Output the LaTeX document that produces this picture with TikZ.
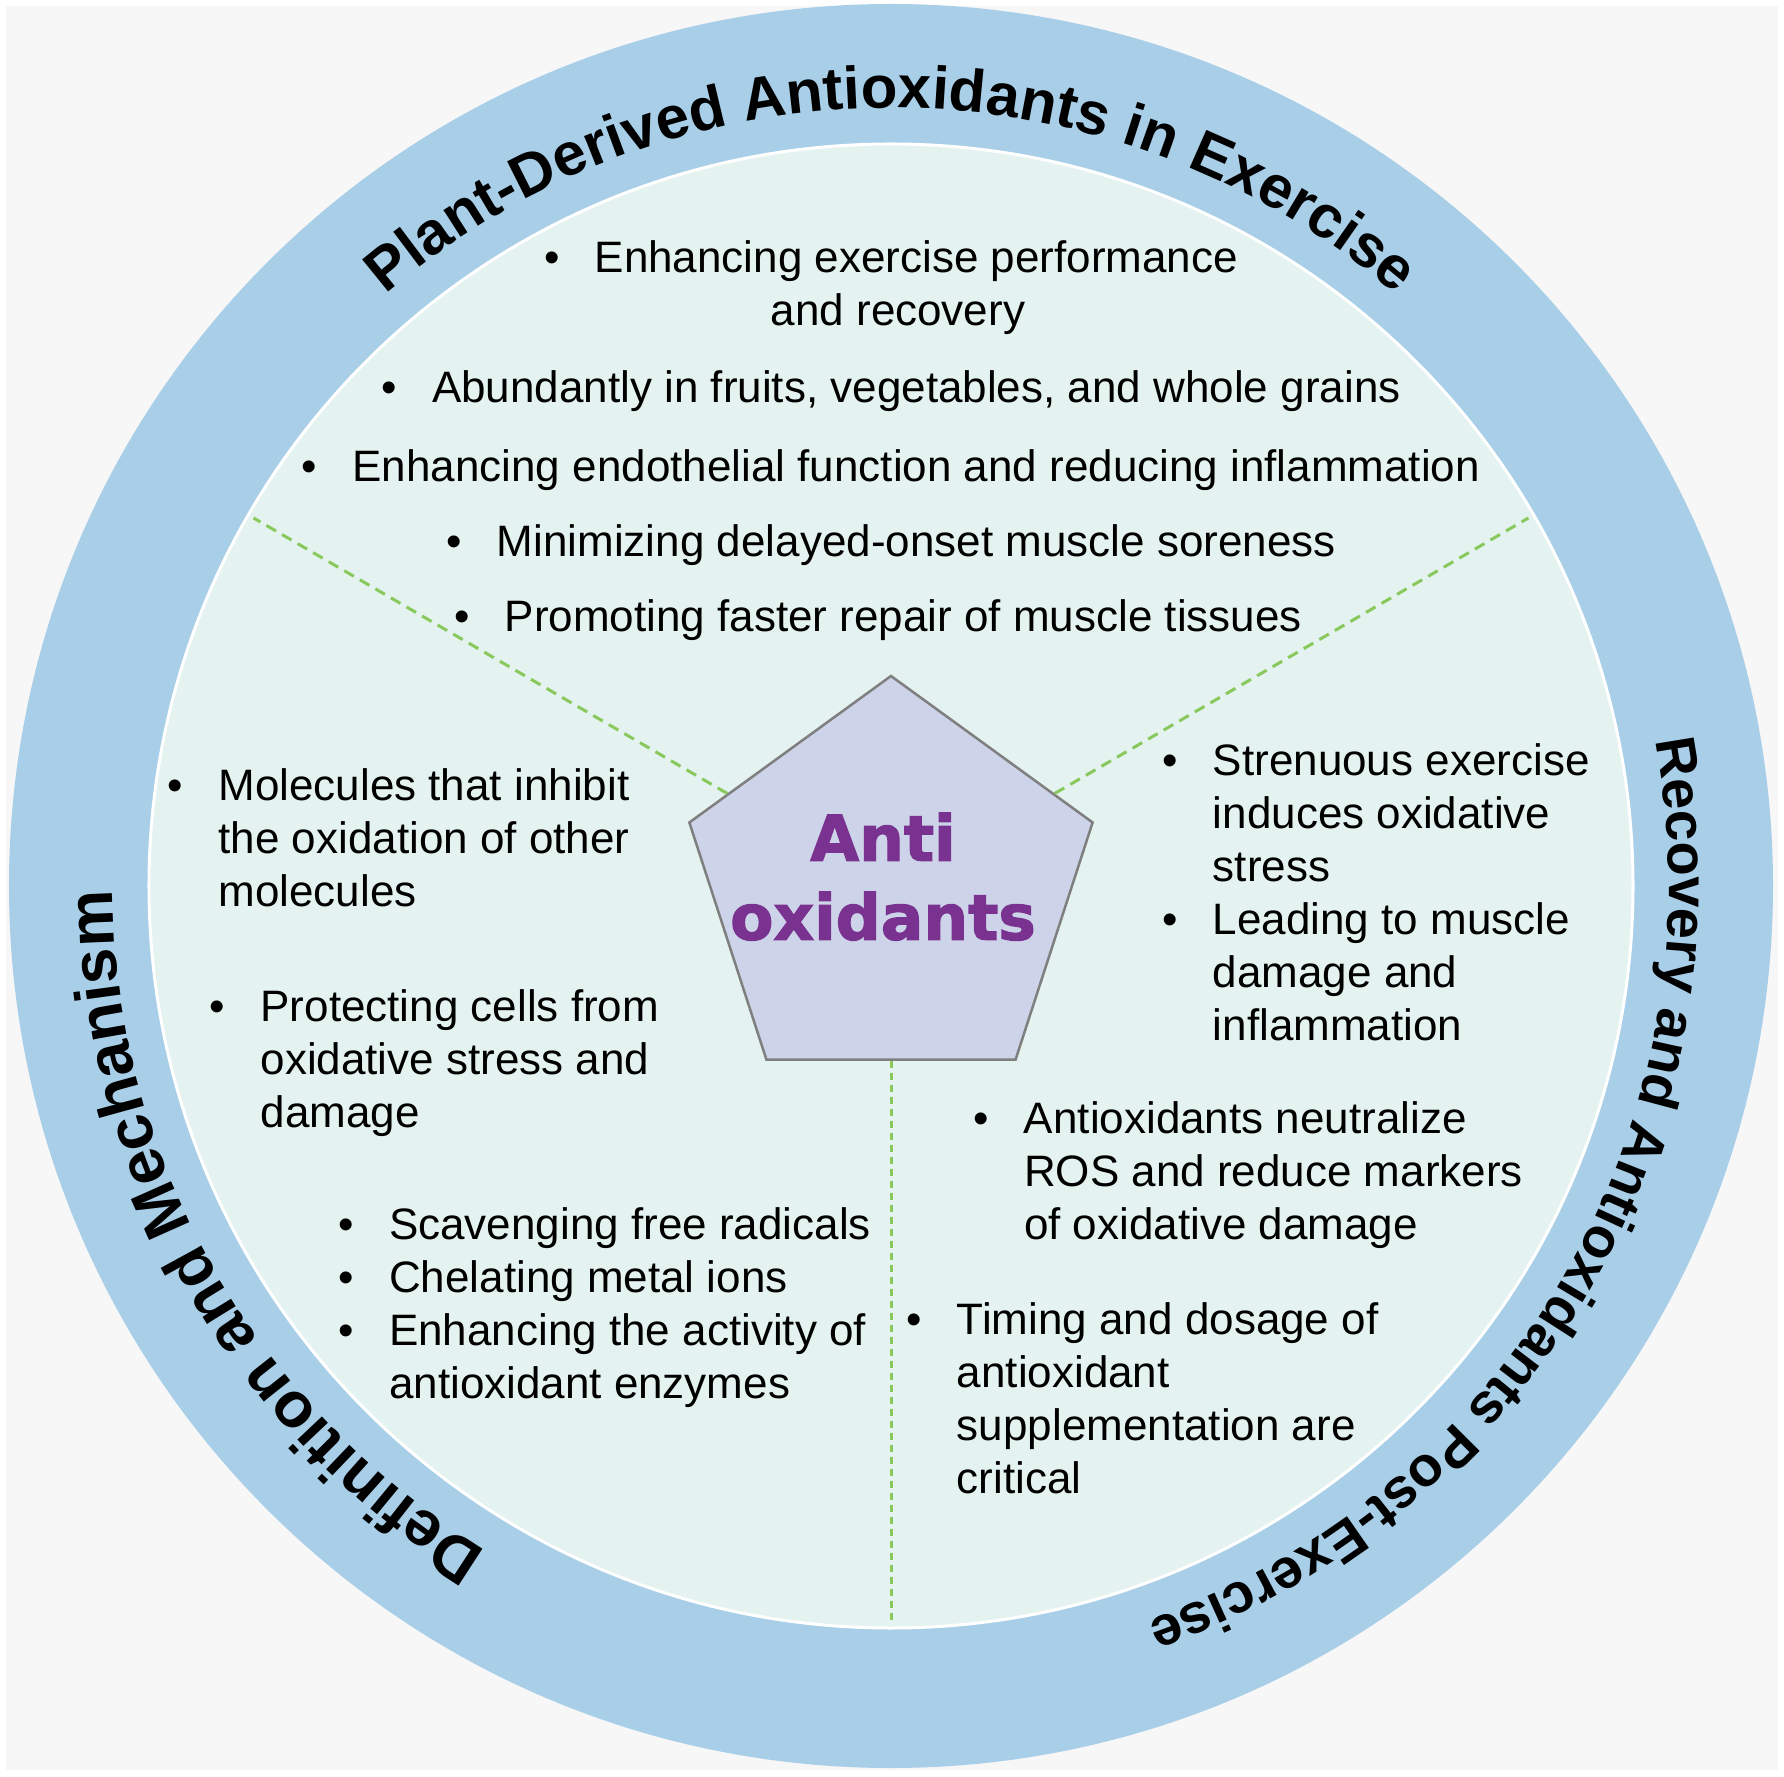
\documentclass[tikz,border=0pt]{standalone}
\usepackage{fontspec}
\setmainfont{Liberation Sans}
\newfontfamily\heavyfont{DejaVu Sans}[BoldFeatures={FakeBold=2}]
\usetikzlibrary{shapes.geometric,decorations.text}
\definecolor{bggray}{HTML}{F7F7F7}
\definecolor{ringblue}{HTML}{A9CFE8}
\definecolor{innermint}{HTML}{E4F3EF}
\definecolor{pentfill}{HTML}{CDD3E8}
\definecolor{pentgray}{HTML}{7F7F7F}
\definecolor{purpletext}{HTML}{7A3290}
\definecolor{dashgreen}{HTML}{88C85C}
\newcommand{\bul}{\makebox[50.7pt][l]{•}}
\newcommand{\ttlfont}[1]{\fontsize{#1}{#1}\selectfont\bfseries}
\begin{document}
\begin{tikzpicture}[x=1pt,y=1pt,
  body/.style={inner sep=0pt, outer sep=0pt, font=\fontsize{44}{53}\selectfont, text=black},
  divider/.style={draw=dashgreen, line width=3pt, dash pattern=on 11pt off 7pt},
  vdivider/.style={draw=dashgreen, line width=3pt, dash pattern=on 7pt off 5pt},
  title/.style={decorate, decoration={text along path, text align=center, text={#1}}},
]
\useasboundingbox (-891,-890) rectangle (893,886);
\fill[white] (-891,-890) rectangle (893,886);
\fill[bggray] (-885,-884) rectangle (887,880);
\fill[ringblue] (0,0) circle (882);
\filldraw[fill=innermint, draw=white, line width=3pt] (0,0) circle (742);

% curved titles
\path[title={|\ttlfont{60}|Plant-Derived Antioxidants in Exercise}]
  (140:778) arc[start angle=140, end angle=40, radius=778];
\path[title={|\ttlfont{56}|Recovery and Antioxidants Post-Exercise}]
  (19.5:778) arc[start angle=19.5, end angle=-79.5, radius=778];
\path[title={|\ttlfont{64}|Definition and Mechanism}]
  (-100.5:778) arc[start angle=-100.5, end angle=-200.5, radius=778];

% pentagon
\node[regular polygon, regular polygon sides=5, minimum size=424pt, inner sep=0pt,
      fill=pentfill, draw=pentgray, line width=2.5pt] (penta) at (0,-2) {};
\node[inner sep=0pt, anchor=base, text=purpletext,
      font=\heavyfont\bfseries\fontsize{63}{79}\selectfont] (ctext) at (-8,25.3)
  {\begin{tabular}[t]{@{}c@{}}Anti\\oxidants\end{tabular}};

% dividers
\coordinate (eUL) at (150:736);
\coordinate (eUR) at (30:736);
\coordinate (eB) at (-90:736);
\draw[divider] (penta.150) -- (eUL);
\draw[divider] (penta.30) -- (eUR);
\draw[vdivider] (penta.-90) -- (eB);

% top sector
\node[body, anchor=base] (t1) at (0,613)
  {\begin{tabular}[t]{@{}c@{}}\bul Enhancing exercise performance\\\hspace*{14pt}and recovery\end{tabular}};
\node[body, anchor=base] (t2) at (0,483.2)
  {\bul Abundantly in fruits, vegetables, and whole grains};
\node[body, anchor=base] (t3) at (0,404.7)
  {\bul Enhancing endothelial function and reducing inflammation};
\node[body, anchor=base] (t4) at (0,329.6)
  {\bul Minimizing delayed-onset muscle soreness};
\node[body, anchor=base] (t5) at (-13,254.5)
  {\bul Promoting faster repair of muscle tissues};

% left sector
\node[body, anchor=base west] (l1) at (-723.2,85)
  {\bul\begin{tabular}[t]{@{}l@{}}Molecules that inhibit\\the oxidation of other\\molecules\end{tabular}};
\node[body, anchor=base west] (l2) at (-681.1,-135.7)
  {\bul\begin{tabular}[t]{@{}l@{}}Protecting cells from\\oxidative stress and\\damage\end{tabular}};
\node[body, anchor=base west] (l3) at (-552.6,-353)
  {\begin{tabular}[t]{@{}l@{}l@{}}\bul&Scavenging free radicals\\\bul&Chelating metal ions\\\bul&Enhancing the activity of\\&antioxidant enzymes\end{tabular}};

% right sector
\node[body, anchor=base west] (r1) at (271.2,110)
  {\begin{tabular}[t]{@{}l@{}l@{}}\bul&Strenuous exercise\\&induces oxidative\\&stress\\\bul&Leading to muscle\\&damage and\\&inflammation\end{tabular}};
\node[body, anchor=base west] (r2) at (82.3,-247.3)
  {\bul\begin{tabular}[t]{@{}l@{}}Antioxidants neutralize\\ROS and reduce markers\\of oxidative damage\end{tabular}};
\node[body, anchor=base west] (r3) at (15.2,-448.6)
  {\bul\begin{tabular}[t]{@{}l@{}}Timing and dosage of\\antioxidant\\supplementation are\\critical\end{tabular}};
\end{tikzpicture}
\end{document}
